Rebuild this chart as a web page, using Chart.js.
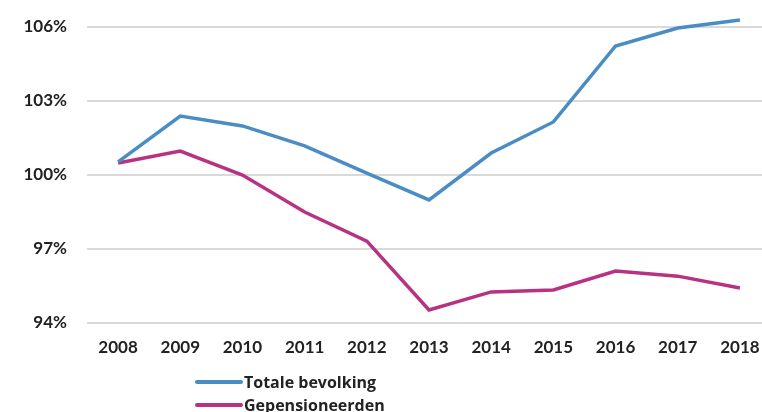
<!DOCTYPE html>
<html><head><meta charset="utf-8">
<script src="https://cdn.jsdelivr.net/npm/chart.js@4"></script>
<style>
html,body{margin:0;padding:0;background:#fff;overflow:hidden;}
#wrap{position:relative;width:762px;height:412px;overflow:hidden;}
canvas{position:absolute;left:0;top:0;}
.leg{position:absolute;left:195px;font:bold 16px "Open Sans", Lato, sans-serif;color:#222;display:flex;align-items:center;white-space:nowrap;height:22px;}
.leg span.ln{display:inline-block;width:48px;height:4px;border-radius:2px;margin-right:1px;}
</style></head>
<body><div id="wrap"><canvas id="c" width="762" height="412"></canvas>
<div class="leg" style="top:371px"><span class="ln" style="background:#4a8cc4"></span>Totale bevolking</div>
<div class="leg" style="top:394px"><span class="ln" style="background:#b73282"></span>Gepensioneerden</div>
</div>
<script>
const years = [2008,2009,2010,2011,2012,2013,2014,2015,2016,2017,2018];
const totaleBevolking = [100.53,102.39,101.99,101.18,100.08,98.99,100.89,102.15,105.23,105.96,106.28];
const gepensioneerden = [100.49,100.97,100.0,98.5,97.32,94.53,95.26,95.34,96.11,95.9,95.42];
const yTicks = [94,97,100,103,106];

const font = {family:'Lato, "Open Sans", sans-serif', size:17, weight:'bold'};
new Chart(document.getElementById('c'), {
  type:'line',
  data:{datasets:[
    {label:'Totale bevolking', data:years.map((y,i)=>({x:y,y:totaleBevolking[i]})), borderColor:'#4a8cc4', borderWidth:3.5, pointRadius:0, tension:0, clip:false},
    {label:'Gepensioneerden', data:years.map((y,i)=>({x:y,y:gepensioneerden[i]})), borderColor:'#b73282', borderWidth:3.5, pointRadius:0, tension:0, clip:false}
  ]},
  options:{
    responsive:false, animation:false,
    layout:{padding:{top:27,left:0,right:0,bottom:0}},
    plugins:{legend:{display:false},tooltip:{enabled:false}},
    scales:{
      x:{type:'linear', min:2007.5, max:2018.355,
        afterBuildTicks:s=>{s.ticks=years.map(v=>({value:v}));},
        afterFit:s=>{s.height=89; s.paddingLeft=0; s.paddingRight=0;},
        grid:{display:false}, border:{display:false},
        ticks:{font, color:'#222', padding:6, maxRotation:0, autoSkip:false, callback:v=>String(v)}},
      y:{min:94,max:106,
        afterBuildTicks:s=>{s.ticks=yTicks.map(v=>({value:v}));},
        afterFit:s=>{s.width=87; s.paddingTop=0; s.paddingBottom=0;},
        grid:{color:'#d9d9d9', lineWidth:2, drawTicks:false}, border:{display:false},
        ticks:{font, color:'#222', padding:20, callback:v=>v+'%'}}
    }
  }
});
</script></body></html>
